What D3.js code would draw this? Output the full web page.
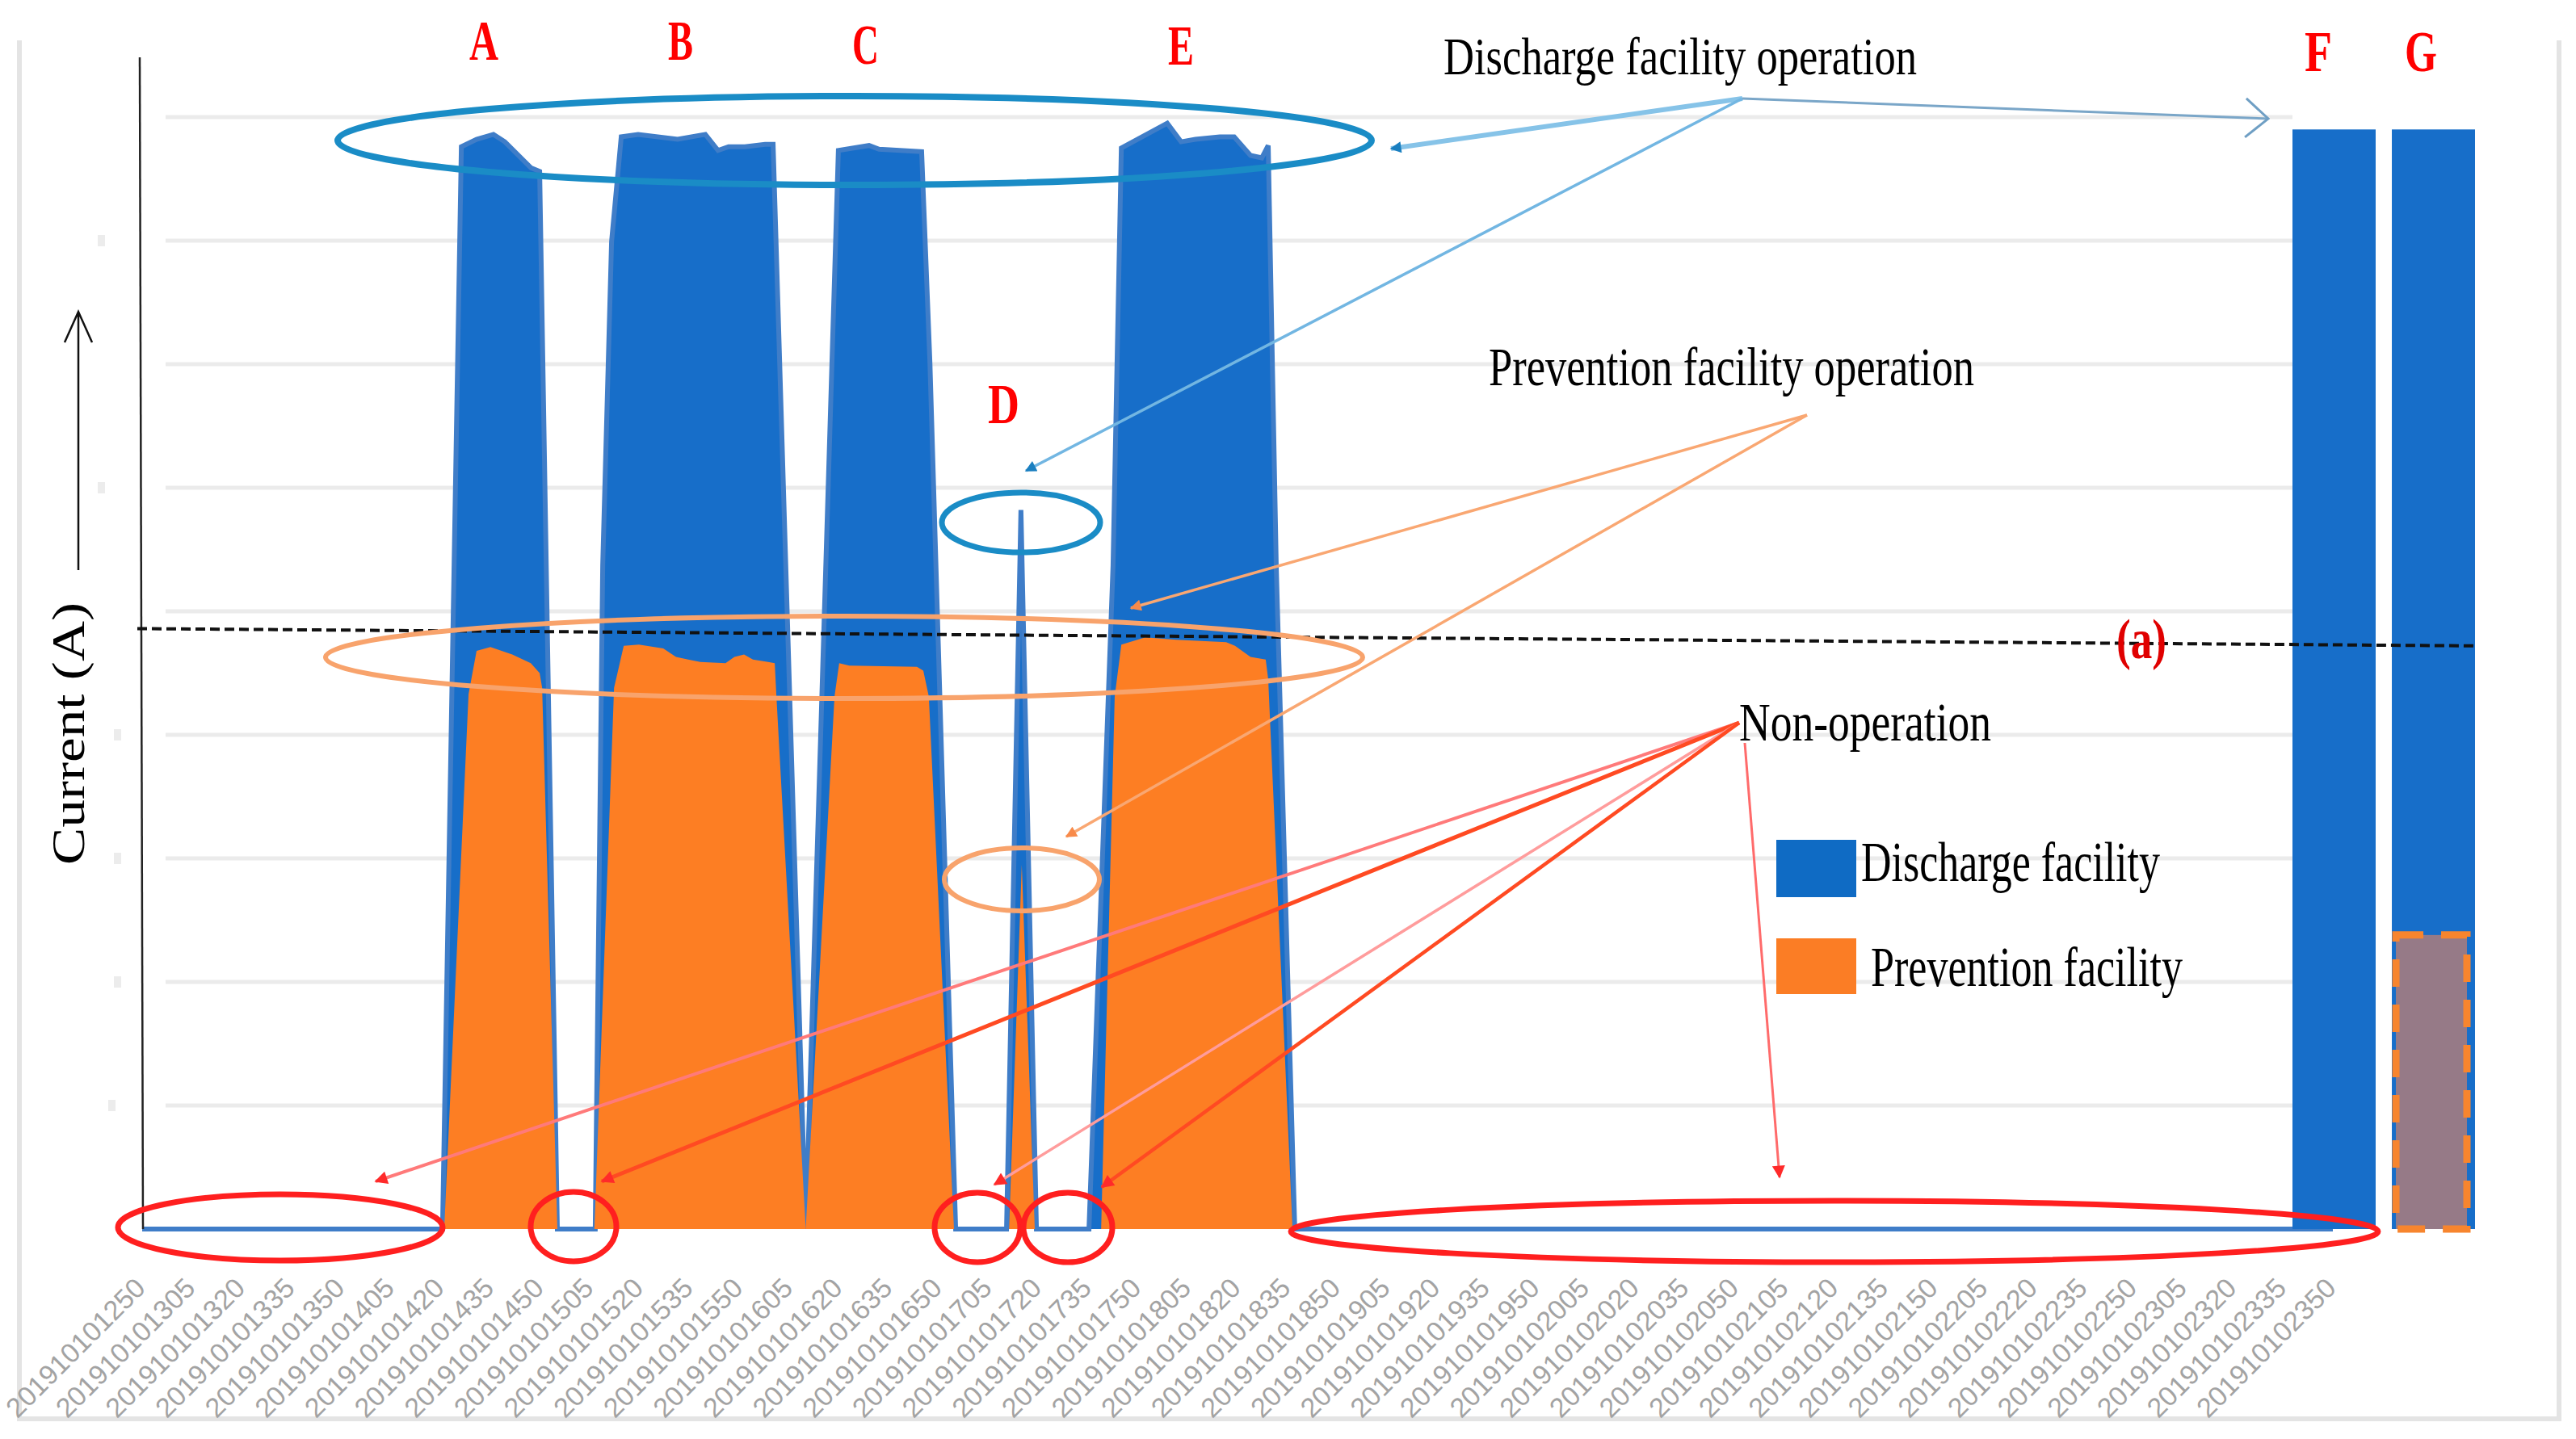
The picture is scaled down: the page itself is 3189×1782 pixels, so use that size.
<!DOCTYPE html>
<html><head><meta charset="utf-8">
<script src="https://cdn.jsdelivr.net/npm/d3@7"></script>
<style>html,body{margin:0;padding:0;background:#fff;} svg{display:block}</style>
</head><body>
<svg id="chart" width="3189" height="1782"></svg>
<script>
// ---------------- DATA ----------------
const timeLabels = ["201910101250","201910101305","201910101320","201910101335","201910101350","201910101405","201910101420","201910101435","201910101450","201910101505","201910101520","201910101535","201910101550","201910101605","201910101620","201910101635","201910101650","201910101705","201910101720","201910101735","201910101750","201910101805","201910101820","201910101835","201910101850","201910101905","201910101920","201910101935","201910101950","201910102005","201910102020","201910102035","201910102050","201910102105","201910102120","201910102135","201910102150","201910102205","201910102220","201910102235","201910102250","201910102305","201910102320","201910102335","201910102350"];

const dischargeTimes = ["12:50:00","14:20:30","14:26:10","14:30:45","14:35:50","14:39:15","14:47:05","14:49:45","14:55:05",
  "15:06:30","15:08:45","15:11:25","15:14:20","15:19:25","15:31:20","15:39:40","15:43:30","15:46:40","15:51:35","15:57:40","16:00:05",
  "16:09:55","16:19:45","16:29:00","16:32:00","16:44:50","16:47:20","16:55:05",
  "17:10:25","17:14:45","17:19:25",
  "17:35:15","17:42:30","17:45:00","17:58:50","18:03:00","18:07:20","18:14:40","18:19:00","18:23:55","18:27:20","18:29:15","18:31:40","18:37:15",
  "23:50:00"];
const dischargeValues = [0,0,87.6,88.2,88.6,88.0,85.9,85.6,0,
  0,53.7,79.9,88.4,88.6,88.2,88.6,87.3,87.6,87.6,87.8,87.8,
  0,87.3,87.7,87.4,87.2,70.1,0,
  0,58.2,0,
  0,53.7,87.5,89.5,88.0,88.2,88.4,88.4,86.9,86.7,87.7,53.7,0,
  0];

const preventionTimes = ["12:50:00","14:21:00","14:28:20","14:30:45","14:34:55","14:41:30","14:47:05","14:49:45","14:50:30","14:55:05",
  "15:06:15","15:12:10","15:15:05","15:19:40","15:27:00","15:30:50","15:34:30","15:38:10","15:45:45","15:48:25","15:51:20","15:54:00","15:58:35","16:00:35","16:01:05",
  "16:09:55","16:18:35","16:20:00","16:23:00","16:43:25","16:45:20","16:47:00","16:54:35",
  "17:11:10","17:15:00","17:18:55",
  "17:38:55","17:43:00","17:45:00","17:52:15","18:01:30","18:16:35","18:19:15","18:23:55","18:28:30","18:29:15","18:36:35",
  "23:50:00"];
const preventionValues = [0,0,43.3,46.8,47.1,46.5,45.8,45.0,43.8,0,
  0,43.8,47.2,47.3,47.0,46.3,46.1,45.9,45.8,46.3,46.5,46.1,45.9,45.8,43.1,
  0,43.1,45.8,45.6,45.5,45.2,43.1,0,
  0,29.5,0,
  0,43.1,47.3,47.9,47.7,47.5,47.2,46.3,46.1,44.5,0,
  0];

const panelCategories = ["F","G"];
const panelDischarge = [89.0, 89.0];
const panelPrevention = [0, 23.8];
const thresholdValues = [48.6, 47.2];
const yTickValues = [0,10,20,30,40,50,60,70,80,90];

// ---------------- SETUP ----------------
const svg = d3.select("#chart");
const toMin = s => { const p = s.split(":").map(Number); return p[0]*60 + p[1] + (p[2]||0)/60; };
const labelMin = s => +s.slice(8,10)*60 + +s.slice(10,12);

const x = d3.scaleLinear().domain([toMin("12:50"), toMin("23:50")]).range([176, 2888]);
const y = d3.scaleLinear().domain([0, 90]).range([1522, 145]);
const band = d3.scaleBand().domain(panelCategories).range([2838, 3064]).paddingInner(0.163).paddingOuter(0);

const BLUE = "#176ec9", ORANGE = "#fd7e23";

// frame
const frame = svg.append("g").attr("stroke", "#e4e4e4").attr("stroke-width", 6).attr("fill", "none");
frame.append("path").attr("d", "M24,50 L24,1757 L3168,1757 L3168,50");

// gridlines
svg.append("g").selectAll("line").data(yTickValues.filter(v => v > 0)).join("line")
  .attr("x1", 205).attr("x2", band("F")).attr("y1", d => y(d)).attr("y2", d => y(d))
  .attr("stroke", "#ebebeb").attr("stroke-width", 5);

// faint remnants of removed y labels
const ghost = [[125,y(80)],[125,y(60)],[145,y(40)],[145,y(30)],[145,y(20)],[138,y(10)]];
svg.append("g").selectAll("rect").data(ghost).join("rect")
  .attr("x", d => d[0]-4).attr("y", d => d[1]-7).attr("width", 9).attr("height", 14)
  .attr("fill", "#ececec");

// areas
const disData = dischargeTimes.map((t,i) => ({t: toMin(t), v: dischargeValues[i]}));
const preData = preventionTimes.map((t,i) => ({t: toMin(t), v: preventionValues[i]}));
const area = d3.area().x(d => x(d.t)).y0(y(0)).y1(d => y(d.v));
const line = d3.line().x(d => x(d.t)).y(d => y(d.v));

svg.append("path").datum(disData).attr("d", area).attr("fill", BLUE);
svg.append("path").datum(disData).attr("d", line).attr("fill", "none").attr("stroke", "#3f7dc8").attr("stroke-width", 6);
svg.append("path").datum(preData).attr("d", area).attr("fill", ORANGE);

// F / G panel bars
svg.append("g").selectAll("rect").data(panelCategories).join("rect")
  .attr("x", d => band(d)).attr("width", band.bandwidth())
  .attr("y", (d,i) => y(panelDischarge[i])).attr("height", (d,i) => y(0) - y(panelDischarge[i]))
  .attr("fill", BLUE);
svg.append("g").selectAll("rect").data(panelCategories.filter((d,i) => panelPrevention[i] > 0)).join("rect")
  .attr("x", d => band(d) + 5).attr("width", band.bandwidth() - 15)
  .attr("y", d => y(panelPrevention[panelCategories.indexOf(d)]))
  .attr("height", d => y(0) - y(panelPrevention[panelCategories.indexOf(d)]))
  .attr("fill", "#967a87").attr("stroke", "#f7852e").attr("stroke-width", 9)
  .attr("stroke-dasharray", "34 22");

// x labels
svg.append("g").selectAll("text").data(timeLabels).join("text")
  .attr("transform", d => `translate(${x(labelMin(d)) + 6},1597) rotate(-45)`)
  .attr("text-anchor", "end")
  .attr("font-family", "Liberation Sans, Arial, sans-serif")
  .attr("font-size", 34).attr("fill", "#a3a3a3")
  .text(d => d);

// y axis line + title
svg.append("line").attr("x1", 173).attr("y1", 71).attr("x2", 177).attr("y2", y(0))
  .attr("stroke", "#222").attr("stroke-width", 2.5);
svg.append("text").attr("transform", "translate(104,1071) rotate(-90)")
  .attr("font-family", "Liberation Serif, Times New Roman, serif").attr("font-size", 56)
  .attr("textLength", 325).attr("lengthAdjust", "spacingAndGlyphs").attr("fill", "#000")
  .text("Current (A)");
svg.append("path").attr("d", "M97,706 L97,386 M80,424 L97,386 L114,424")
  .attr("fill", "none").attr("stroke", "#111").attr("stroke-width", 2.5);

// threshold dashed line (a)
svg.append("line").attr("x1", 170).attr("x2", 3066)
  .attr("y1", y(thresholdValues[0])).attr("y2", y(thresholdValues[1]))
  .attr("stroke", "#111").attr("stroke-width", 4).attr("stroke-dasharray", "12 6");

// ---------------- ANNOTATIONS ----------------
const defs = svg.append("defs");
function headMarker(id, color, w, h) {
  defs.append("marker").attr("id", id).attr("viewBox", "0 0 10 10").attr("refX", 9).attr("refY", 5)
    .attr("markerWidth", w).attr("markerHeight", h).attr("markerUnits", "userSpaceOnUse").attr("orient", "auto")
    .append("path").attr("d", "M0,0 L10,5 L0,10 z").attr("fill", color);
}
headMarker("hRed", "#ff2a2a", 20, 16);
headMarker("hOrange", "#f88a4a", 18, 14);
headMarker("hBlue", "#1a7fc0", 18, 14);
defs.append("marker").attr("id", "chev").attr("viewBox", "0 0 32 52").attr("refX", 30).attr("refY", 26)
  .attr("markerWidth", 32).attr("markerHeight", 52).attr("markerUnits", "userSpaceOnUse").attr("orient", "auto")
  .append("path").attr("d", "M2,2 L30,26 L2,50").attr("fill", "none").attr("stroke", "#6f9fc4").attr("stroke-width", 3);

const ell = svg.append("g").attr("fill", "none");
const ellipses = [
  {cx:1058, cy:174, rx:640, ry:55, c:"#1a8cc6", w:8},
  {cx:1264, cy:647, rx:98, ry:37, c:"#1a8cc6", w:7},
  {cx:1045, cy:814, rx:642, ry:51, c:"#f8a36c", w:6},
  {cx:1265, cy:1089, rx:96, ry:39, c:"#f8a36c", w:6},
  {cx:347, cy:1520, rx:201, ry:41, c:"#ff1f1f", w:7},
  {cx:710, cy:1519, rx:53, ry:43, c:"#ff1f1f", w:7},
  {cx:1210, cy:1520, rx:53, ry:43, c:"#ff1f1f", w:7},
  {cx:1322, cy:1520, rx:55, ry:43, c:"#ff1f1f", w:7},
  {cx:2271, cy:1525, rx:673, ry:38, c:"#ff1f1f", w:7}
];
ell.selectAll("ellipse").data(ellipses).join("ellipse")
  .attr("cx", d => d.cx).attr("cy", d => d.cy).attr("rx", d => d.rx).attr("ry", d => d.ry)
  .attr("stroke", d => d.c).attr("stroke-width", d => d.w);

const arrows = [
  {x1:2157, y1:122, x2:1722, y2:184, c:"#86c3e8", w:6, m:"hBlue"},
  {x1:2157, y1:122, x2:1270, y2:583, c:"#72b6e2", w:3.5, m:"hBlue"},
  {x1:2157, y1:122, x2:2808, y2:147, c:"#7aa6c8", w:3, m:"chev"},
  {x1:2237, y1:514, x2:1400, y2:753, c:"#f9a772", w:3.5, m:"hOrange"},
  {x1:2237, y1:514, x2:1320, y2:1036, c:"#f9a772", w:3.5, m:"hOrange"},
  {x1:2153, y1:895, x2:465, y2:1463, c:"#ff7a7a", w:4, m:"hRed"},
  {x1:2153, y1:895, x2:745, y2:1463, c:"#ff4a22", w:5, m:"hRed"},
  {x1:2153, y1:895, x2:1231, y2:1467, c:"#ff9c9c", w:3.5, m:"hRed"},
  {x1:2153, y1:895, x2:1364, y2:1470, c:"#ff4a22", w:4.5, m:"hRed"},
  {x1:2160, y1:920, x2:2203, y2:1458, c:"#ff6b6b", w:3, m:"hRed"}
];
svg.append("g").selectAll("line").data(arrows).join("line")
  .attr("x1", d => d.x1).attr("y1", d => d.y1).attr("x2", d => d.x2).attr("y2", d => d.y2)
  .attr("stroke", d => d.c).attr("stroke-width", d => d.w)
  .attr("marker-end", d => `url(#${d.m})`);

// legend
svg.append("rect").attr("x", 2199).attr("y", 1040).attr("width", 99).attr("height", 71).attr("fill", "#0f6bc4");
svg.append("rect").attr("x", 2199).attr("y", 1162).attr("width", 99).attr("height", 69).attr("fill", "#fb7d25");

const serif = "Liberation Serif, Times New Roman, serif";
const texts = [
  {t:"Discharge facility operation", x:1787, y:92, s:66, len:586, c:"#000", b:false},
  {t:"Prevention facility operation", x:1843, y:477, s:68, len:601, c:"#000", b:false},
  {t:"Non-operation", x:2153, y:917, s:68, len:312, c:"#000", b:false},
  {t:"Discharge facility", x:2304, y:1091, s:70, len:370, c:"#000", b:false},
  {t:"Prevention facility", x:2316, y:1221, s:70, len:386, c:"#000", b:false},
  {t:"(a)", x:2620, y:815, s:70, len:62, c:"#e00000", b:true},
  {t:"A", x:581, y:74, s:69, len:36, c:"#ff0000", b:true},
  {t:"B", x:827, y:74, s:69, len:31, c:"#ff0000", b:true},
  {t:"C", x:1055, y:79, s:69, len:33, c:"#ff0000", b:true},
  {t:"E", x:1446, y:80, s:69, len:32, c:"#ff0000", b:true},
  {t:"D", x:1223, y:524, s:69, len:39, c:"#ff0000", b:true},
  {t:"F", x:2853, y:88, s:72, len:34, c:"#ff0000", b:true},
  {t:"G", x:2977, y:88, s:72, len:40, c:"#ff0000", b:true}
];
svg.append("g").selectAll("text").data(texts).join("text")
  .attr("x", d => d.x).attr("y", d => d.y)
  .attr("font-family", serif).attr("font-size", d => d.s)
  .attr("font-weight", d => d.b ? "bold" : "normal")
  .attr("fill", d => d.c)
  .attr("textLength", d => d.len).attr("lengthAdjust", "spacingAndGlyphs")
  .text(d => d.t);
</script>
</body></html>
